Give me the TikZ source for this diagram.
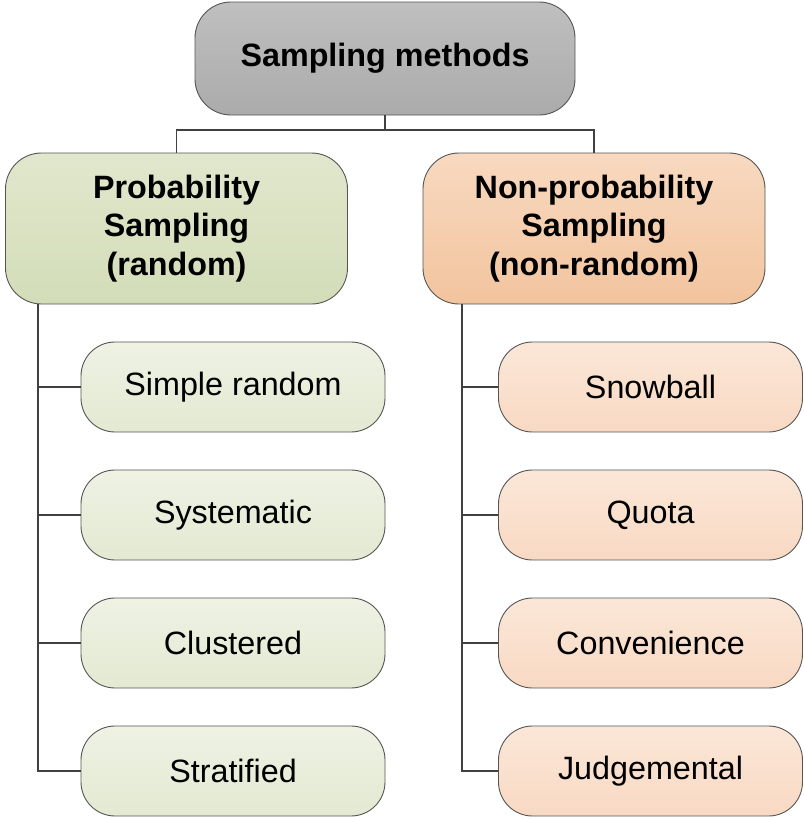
\documentclass[tikz,border=0pt]{standalone}
\usepackage{fontspec}
\setmainfont{Liberation Sans}
\definecolor{edge}{HTML}{555555}
\definecolor{conn}{HTML}{404040}
\begin{document}
\begin{tikzpicture}[x=1pt,y=-1pt,
  box/.style={draw=edge, line width=0.9pt, rounded corners=36pt, align=center, inner sep=0pt,
    font=\fontsize{32.3}{38.5}\selectfont},
  topbox/.style={box, top color=gray!50, bottom color=gray!66, font=\fontsize{32.3}{38.5}\selectfont\bfseries,
    minimum width=380pt, minimum height=113pt},
  midbox/.style={box, font=\fontsize{32.3}{38.5}\selectfont\bfseries, minimum width=342pt, minimum height=151pt},
  leafbox/.style={box, rounded corners=34pt, minimum width=304pt, minimum height=90pt},
  gmid/.style={midbox, top color={rgb,255:red,225;green,231;blue,205}, bottom color={rgb,255:red,211;green,221;blue,184}},
  omid/.style={midbox, top color={rgb,255:red,248;green,217;blue,192}, bottom color={rgb,255:red,242;green,196;blue,158}},
  gleaf/.style={leafbox, top color={rgb,255:red,239;green,242;blue,228}, bottom color={rgb,255:red,227;green,233;blue,210}},
  oleaf/.style={leafbox, top color={rgb,255:red,251;green,231;blue,216}, bottom color={rgb,255:red,248;green,217;blue,195}},
  link/.style={draw=conn, line width=1.8pt}
]
\useasboundingbox (0,0) rectangle (803,819);

\node[topbox] (top) at (385,58.5) {Sampling methods};
\node[gmid] (prob) at (176.5,228.5) {Probability\\Sampling\\(random)};
\node[omid] (nonp) at (594,228.5) {Non-probability\\Sampling\\(non-random)};

\node[gleaf] (l1) at (233,387) {Simple random};
\node[gleaf] (l2) at (233,515) {Systematic};
\node[gleaf] (l3) at (233,643) {Clustered};
\node[gleaf] (l4) at (233,771) {Stratified};

\node[oleaf] (r1) at (650.5,387) {Snowball};
\node[oleaf] (r2) at (650.5,515) {Quota};
\node[oleaf] (r3) at (650.5,643) {Convenience};
\node[oleaf] (r4) at (650.5,771) {Judgemental};

\coordinate (hy) at (0,130);
\draw[link] (top.south) -- (top.south |- hy);
\draw[link] (prob.north) |- (top.south |- hy) -| (nonp.north);

\coordinate (lx) at (38,0);
\coordinate (rx) at (462,0);
\draw[link] (lx |- prob.south) -- (lx |- l4.west) -- (l4.west);
\draw[link] (lx |- l1.west) -- (l1.west);
\draw[link] (lx |- l2.west) -- (l2.west);
\draw[link] (lx |- l3.west) -- (l3.west);
\draw[link] (rx |- nonp.south) -- (rx |- r4.west) -- (r4.west);
\draw[link] (rx |- r1.west) -- (r1.west);
\draw[link] (rx |- r2.west) -- (r2.west);
\draw[link] (rx |- r3.west) -- (r3.west);
\end{tikzpicture}
\end{document}
